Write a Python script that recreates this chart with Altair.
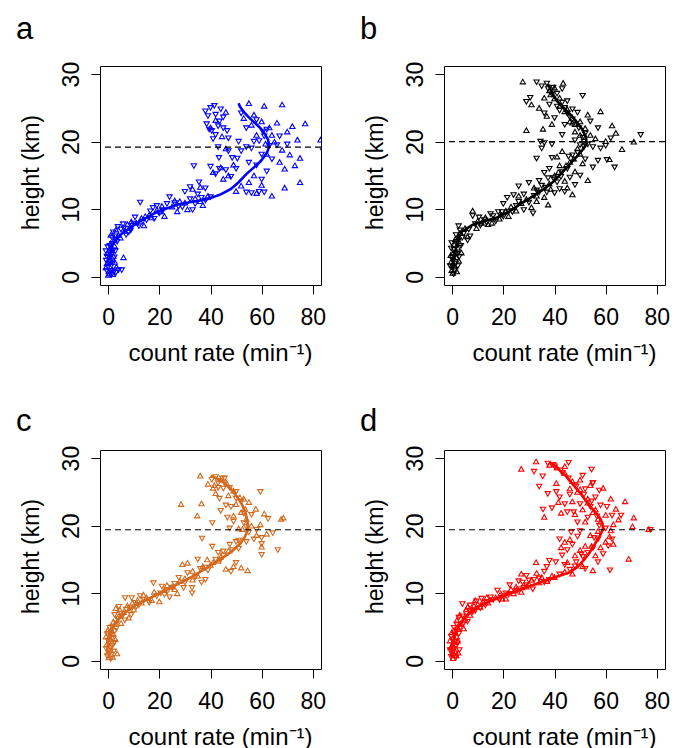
import altair as alt
import pandas as pd

FONT = "Liberation Sans"
XDOM = [-3.2, 83.2]
YDOM = [-1.2, 31.2]
W, H = 221, 219
X_TICKS = [0, 20, 40, 60, 80]
Y_TICKS = [0, 10, 20, 30]
X_TITLE = "count rate (min\u207b\u00b9)"
Y_TITLE = "height (km)"

# ---------------- panel a (blue) ----------------
a_up = [(0.2,0.8),(1.5,1.2),(-0.5,2.0),(0.8,2.6),(2.0,3.1),(-0.3,3.5),(1.2,4.2),(3.2,1.5),(0.5,0.5),(2.5,4.6),(6.0,2.9),
        (0.0,0.3),(1.8,0.4),(-0.9,1.4),(2.6,2.2),(0.4,4.0),(1.0,5.0),
        (2.5,5.5),(4.0,6.2),(6.5,6.8),(8.5,7.3),(3.0,7.0),(1.0,6.2),(4.8,5.8),(7.5,7.8),(9.0,8.2),
        (11,8.0),(13,8.7),(16,9.2),(19,9.9),(21,10.5),(14,7.6),(22,9.0),(14.5,9.0),(17,8.8),(20.5,9.7),
        (25,10.4),(28,11.2),(31,10.0),(34,11.6),(37,10.6),(39,12.0),(27,9.7),(30,11.0),(36,11.2),(26,11.3),
        (33,13.0),(36,13.3),
        (41,15.5),(44,16.2),(47,15.0),(49,16.6),(45,14.5),(46,19.0),
        (42,23.2),(40,22.1),(46,24.4),(44.5,20.8),
        (55,25.7),(61,25.3),(68,25.5),(57,24.0),(60,23.0),(63,22.1),(66,22.8),(70,21.5),(72,22.3),(77,22.7),(74,20.3),
        (65,20.0),(58,21.0),(61.5,19.7),(68,18.8),(71,18.1),(75,17.6),(62,18.2),(67,17.0),(69,16.0),(73,16.5),(56,22.5),
        (53,23.5),(64,21.0),
        (58,12.4),(64,12.0),(69,13.2),(75,14.0),(55,14.0),(60,13.6),(57,15.0),(50,12.7),(52,13.5),
        (83,20.3)]
a_dn = [(0.0,1.5),(1.0,0.9),(-0.8,2.4),(1.8,2.0),(0.3,3.0),(2.8,3.8),(-0.2,4.4),(1.4,3.3),(4.0,1.0),(0.7,1.9),(2.2,0.7),
        (-0.6,0.9),(1.6,4.9),(5.3,1.0),
        (0.9,2.2),(2.4,2.9),(-0.5,3.0),(1.9,3.9),(0.6,4.6),(-0.9,3.8),(3.0,0.6),(1.3,0.3),(0.1,2.0),
        (1.5,5.8),(3.5,5.2),(5.0,7.0),(7.0,6.2),(9.5,7.6),(2.0,6.6),(5.8,7.8),(8.0,6.6),
        (3.8,7.4),(6.2,7.2),(8.8,6.9),(2.8,6.0),(10,7.9),
        (10.5,8.8),(12.5,11.0),(15,8.4),(17.5,10.2),(20,9.4),(12,7.5),(18,8.6),(23,10.8),
        (13.5,8.2),(16.5,9.7),(19,10.5),(21.5,9.9),
        (24,11.8),(26,10.9),(29,10.3),(32,11.5),(35,12.2),(38,11.3),(30,12.6),(33,9.9),
        (27.5,10.4),(34,10.8),(36.5,11.7),(40,11.8),
        (32,13.3),(38,13.1),(35.5,14.0),(33.5,16.4),
        (40,16.3),(42,15.2),(43.5,16.0),(46,15.8),(48,14.8),(50,16.0),(48.5,17.6),(50.5,17.5),(43.3,17.6),(43,19.2),(47,18.6),
        (38,24.5),(39,23.8),(40,25.0),(41.5,25.3),(42,24.0),(38.5,22.6),(43.5,23.0),(40.5,21.6),(42,21.0),(45,22.0),
        (46.5,21.6),(44,24.8),(41,20.4),(43,22.3),(47,20.5),(39.5,21.8),(45,23.6),
        (52,24.2),(54,22.0),(58,23.2),(62,21.8),(59,20.1),(63,19.4),(66,19.5),(70,19.6),(56,19.0),(52,18.6),(60,18.1),
        (64,17.4),(58,16.5),(55,16.9),(61,20.8),(67,20.8),(57,20.0),(54,19.2),(51,20.0),(60.5,21.5),
        (54,12.5),(56,12.4),(59,12.6),(61,12.5),(60,14.4),(62,15.6),
        (84,18.6)]
a_smooth = [(0.5,2.5),(1.5,4.5),(3.0,5.6),(6,6.6),(11,7.9),(19,9.6),(28,10.8),(38.7,11.5),(44,12.2),(48,13.0),(51,14.0),
            (54,15.2),(57,16.2),(59.6,17.1),(62,18.3),(63,19.3),(62.5,20.3),(61,21.3),(59.5,22.0),(57.6,22.7),(55,23.6),
            (53,24.4),(51.5,25.2),(51,25.7)]
a_dash = 19.2

# ---------------- panel b (black) ----------------
b_up = [(0.2,0.6),(1.0,1.5),(-0.5,2.2),(1.6,2.9),(0.4,3.6),(2.2,4.3),(3.0,5.0),(1.2,5.6),(-0.2,1.0),(2.6,2.4),
        (0.0,1.8),(1.8,0.8),(-0.6,3.2),(2.4,5.8),(0.8,4.8),(3.6,3.6),
        (3,6.5),(5,7.2),(8,9.8),(10,8.3),(13,8.8),(16,8.6),(19,9.2),(22,9.0),(6,6.0),(14,7.8),
        (9.5,7.2),(11.5,8.0),(15.5,8.0),(18.5,8.6),(21,9.8),
        (23,10.4),(25,9.8),(27,10.9),(29,11.5),(31,10.3),(33,11.2),(26,12.0),
        (37.5,10.7),(36,11.8),(32,13.2),(38,13.8),(33,12.0),(38.5,13.0),
        (40,15.0),(42,16.5),(44,14.2),(46,17.0),(48,15.6),(50,18.2),(43,18.6),(53,14.3),(51,16.8),(45,13.2),(47,12.2),
        (41,17.8),(49,19.0),(41.5,15.5),(44.5,16.5),(47.5,17.5),
        (48,21.5),(50,23.0),(52,22.0),(54,21.0),(56,20.5),(58,24.5),(45,24.8),(53,24.0),(47,22.8),
        (50,21.0),(48,22.6),(46,23.0),(44,24.5),(42,25.3),(40,26.4),(38.5,27.0),
        (62.5,22.4),(64,21.3),(60,20.1),(71,20.0),(66.4,18.9),(61.5,17.4),
        (27.6,28.9),(29,21.7),(35.5,21.9),(31,25.5),(36,26.5),(38,27.6),(43.4,28.7),(40,28.0),(34,25.0),(37,23.8),
        (39,22.6),(42,26.5)]
b_dn = [(0.6,0.4),(-0.8,1.6),(1.4,2.0),(0.0,2.8),(2.0,3.4),(0.8,4.0),(3.4,4.6),(1.8,5.2),(4.0,5.8),(2.8,3.0),(-0.4,4.2),
        (1.0,1.0),(0.3,2.4),(1.2,3.3),(2.2,1.6),(-0.2,5.0),(1.5,6.2),(3.0,6.9),
        (2.5,7.5),(4.5,6.4),(6.5,7.0),(8,9.0),(7,6.0),(9,7.8),(11,7.6),(12.5,8.4),(15,9.3),(17,8.2),(20,8.9),(18,9.6),(6,5.4),
        (10.5,8.8),(13.5,8.0),(16,9.0),(19.5,9.6),(23.5,9.6),(25,10.5),
        (20,10.8),(21.5,11.7),(24,12.1),(26,11.1),(28,12.2),(30,11.0),(31.6,9.4),(32,12.0),(22,9.6),(28,9.9),
        (26,13.4),(30,13.9),(33,12.8),(35,13.5),(37,12.5),(34,14.2),
        (34,12.5),(36.5,13.2),(39.5,14.6),(42.5,14.8),(45.5,17.8),(49,18.4),(51.5,19.2),
        (38,16.0),(39,17.6),(41,14.0),(43,15.5),(45,16.0),(47,18.0),(48,13.6),(50,15.0),(52,17.4),(44,12.6),(42,13.0),
        (46,14.7),(40,12.4),(36,15.4),(37.5,14.6),(55,16.2),(33,17.5),(35,19.0),(39,19.6),
        (46,23.6),(49,24.3),(51,20.6),(53,19.6),(55,19.2),(57,22.0),(44,22.5),(48,20.2),(50,19.5),(52,21.2),(43,21.0),
        (54,23.0),
        (51.5,20.0),(49.5,22.0),(47,23.3),(45,24.2),(43,25.8),(41,27.1),(39.5,28.0),(37.5,27.8),
        (73.7,21.0),(63.5,16.2),(60.5,17.3),(58,19.0),(60,19.4),(62,20.5),(57,17.2),
        (33,28.8),(29,25.9),(30.5,26.5),(35,28.2),(37,28.6),(39,27.0),(41,25.2),(43,27.8),(45,26.0),(51,26.8),(38,25.5),
        (36,24.2),(40,23.5),(42,24.6),(44,25.0),(47,24.8),(36,19.8),(34.5,20.0)]
b_smooth = [(0,1.0),(0.8,3),(2,5.2),(3.5,6.6),(7.9,7.7),(12,8.2),(17,8.7),(22,9.6),(26.3,10.7),(31,11.8),(35.5,12.9),
            (40,14.2),(43.4,15.6),(46,16.7),(48.7,17.8),(51,18.8),(52.6,19.7),(52.2,20.8),(50.7,21.9),(48.5,23.0),
            (46,24.1),(43,25.2),(40.8,26.1),(39,27.3),(37.5,28.5)]
b_dash = 20.0

# ---------------- panel c (orange) ----------------
c_up = [(0.2,0.5),(1.0,1.6),(-0.6,2.4),(0.8,3.2),(2.0,4.0),(-0.3,4.5),(3.5,1.1),(1.5,2.8),
        (0.0,1.2),(1.8,0.6),(-0.9,3.6),(1.0,4.4),(2.8,3.2),
        (2,5.8),(4,6.6),(6,7.2),(8,6.4),(10,7.6),(3,7.8),(5,5.6),(13.8,9.8),
        (4.5,7.6),(7.5,8.2),(9.5,8.6),(11.5,9.0),
        (13,8.6),(15,9.4),(18,10.2),(20,8.8),(22,10.5),(25,11.0),(27,10.0),(17,9.0),(28,11.8),
        (23,11.2),(26,10.6),(33,12.0),(40,14.2),(43,14.8),
        (29,14.3),(31,14.5),(33,13.3),(35,12.6),(37,14.0),(38.7,15.0),(30,12.2),
        (41,14.6),(44,15.4),(47,16.3),(49,14.0),(52,13.8),(54.5,13.4),(46,13.6),
        (47,24.5),(50,23.2),(52,22.0),(54,21.0),(56,20.0),(58,18.6),(49,21.5),(53,24.0),(55,23.5),(57.7,22.5),(51,19.6),
        (59.5,20.2),
        (52.5,19.5),(53.5,22.5),(51.5,24.2),(49,25.2),(46.5,26.2),(44,26.8),
        (61,21.8),(67.6,21.0),(68.5,21.2),(62,18.8),(60,16.9),
        (36,27.4),(28.5,23.2),(36.5,23.3),(34.8,21.5),(41,25.6),(42,24.8),(39,26.2),(41.5,26.0)]
c_dn = [(0.5,1.0),(-0.8,1.8),(1.6,2.2),(0.0,3.0),(1.2,3.8),(2.6,4.4),(-0.4,0.7),(0.6,4.9),(2.2,1.4),(1.0,0.3),
        (0.4,2.6),(1.5,3.4),(-0.2,4.0),(2.4,2.7),(0.9,1.9),(3.2,4.8),
        (1.5,5.0),(3.2,5.5),(5,7.0),(7,7.6),(9,6.8),(2.5,6.8),(6.5,6.0),(11,8.0),(4.2,8.0),(6.6,9.3),(9.2,9.3),
        (3.8,6.2),(5.5,6.6),(8.5,7.8),(10.5,8.6),(12.5,9.6),
        (12,8.2),(14,9.0),(16,8.6),(17.7,11.5),(19,9.6),(21,11.0),(23,10.2),(24,9.4),(26,11.4),(27.6,12.3),(29.5,10.8),
        (20.5,10.0),
        (22,9.8),(25,10.8),(30,11.6),(38,13.8),(44,15.0),(48.5,16.4),(50,17.6),
        (32.8,10.0),(32.8,10.8),(34,12.4),(36,13.6),(38,12.0),(31,13.0),(35,15.0),(39,13.4),(36.5,11.6),
        (40.7,16.9),(43,16.0),(45,16.2),(45,15.6),(48,13.2),(50,14.5),(42,15.0),(47.5,17.2),(51,16.6),
        (48,22.8),(50,25.0),(52,23.6),(53,20.4),(55,19.0),(57,18.0),(59.5,25.0),(49,20.6),(46.6,21.2),(54,17.6),(56,21.6),
        (58,19.4),(51,17.8),(60,18.2),
        (54,19.8),(53,21.8),(50,24.0),(47.5,25.6),(45.5,27.0),(43,25.6),
        (64.3,18.9),(66.3,16.4),(60,17.3),(60,15.7),(62.5,21.0),
        (40.7,20.4),(36.7,18.1),(40.5,26.8),(43,26.3),(44.5,27.0),(45,25.5),(43.5,24.0),(46,23.0),(44,22.2),(47.5,19.6),
        (45.3,26.4),(42,27.2)]
c_smooth = [(-0.5,1.2),(0,3),(2,5.1),(4.5,6.4),(7.2,7.3),(11,8.3),(16.4,9.3),(21,10.2),(26.9,11.3),(32,12.3),(37.4,13.5),
            (42,14.6),(46.6,15.7),(49.5,16.6),(51.8,17.4),(53.5,18.4),(54.5,19.3),(54.5,20.5),(53.8,21.8),(52.5,23.0),
            (50.5,24.2),(48,25.4),(45.3,26.4),(42.5,27.0),(40,27.4)]
c_dash = 19.4

# ---------------- panel d (red) ----------------
d_up = [(0.3,0.4),(1.2,1.4),(-0.6,2.0),(0.6,2.8),(1.8,3.6),(-0.2,4.2),(2.4,1.2),(0.9,0.9),
        (0.0,2.2),(1.6,0.8),(-0.9,3.0),(0.8,4.6),(2.2,3.0),
        (2,5.0),(3.5,5.6),(5,6.2),(7,6.8),(1.8,6.0),(4.5,4.8),
        (3.0,6.8),(5.5,7.6),(8.5,8.2),(11,8.0),(13.5,9.4),
        (6,8.0),(8,7.6),(10,8.4),(12,8.8),(14,8.6),(9,9.0),
        (17,9.4),(19,10.0),(21,9.2),
        (19.5,9.2),(24.5,10.4),(29,11.0),(34,11.6),(40,12.4),(44,13.2),
        (23,10.6),(25,11.0),(27,10.2),(30,11.4),(24,10.0),
        (27,12.9),(31,12.0),(33,13.0),(35,12.4),(37,11.8),(32.8,14.6),(39,12.6),
        (42.6,16.8),(44,17.6),(46,18.0),(48,15.6),(50,16.4),(52,17.0),(54,18.6),(47,12.9),(45,14.6),(51,14.0),(55,13.4),
        (56,15.6),(58,16.8),(60,17.6),(61.5,18.4),(62,19.3),(63,17.3),(69,15.1),
        (54.5,17.0),(57,19.2),(58,20.6),(56,22.4),(53,23.4),(50,25.4),(47,26.6),(44,27.8),(41,28.6),
        (47,23.6),(49,25.0),(51,22.4),(53,24.0),(55,22.0),(57,21.0),(48,21.7),(54,26.0),(50,26.8),(52,20.6),
        (59,25.6),(62,24.0),(64,22.5),(67.6,23.6),(65,20.9),(71,21.2),(70.5,19.9),(76.8,19.5),(60,21.6),(63,20.2),
        (32.8,29.5),(27,28.4),(38,29.0),(44,28.8),(36,21.3),(42.6,21.9),(40.7,26.3),(41.5,23.5),(46,25.5)]
d_dn = [(0.0,1.0),(-0.8,1.6),(1.5,2.2),(0.2,3.2),(1.0,3.8),(2.6,4.0),(-0.4,0.6),(2.0,2.6),(1.4,0.5),
        (0.5,1.8),(1.2,2.8),(-0.4,3.6),(2.8,1.6),(0.7,4.9),(1.8,5.4),
        (1.5,4.4),(3,4.8),(4,6.6),(6,5.8),(8,7.2),(2.6,6.4),(5.5,7.0),
        (4.2,5.4),(6.8,7.4),(9.5,8.8),(12.5,8.6),(15,9.4),
        (4,8.4),(7,8.2),(9,7.4),(11,7.8),(13,8.2),(11.5,9.2),
        (16,9.0),(17.7,10.4),(20,9.6),(22,9.8),(18.5,9.0),
        (21,10.0),(26,10.6),(32,12.0),(36,11.6),(42,12.8),(48.5,14.6),(50.5,15.8),
        (22.5,11.2),(26,11.8),(28,10.8),(29,11.2),(31.5,10.6),(27.5,11.6),
        (29,12.6),(30,11.9),(34,12.2),(36,13.2),(38,12.0),(38,14.8),(37,13.9),(40.5,14.6),
        (43,15.6),(45,16.4),(47,17.2),(49,18.4),(51,15.4),(53,16.0),(44,14.2),(46,13.5),(48,14.0),(52,13.6),(50,19.2),
        (42,18.0),(46.5,19.0),
        (57,14.6),(59,15.8),(61,17.0),(62.5,18.0),(61.7,13.4),(57,18.0),(55,16.7),(60,19.6),
        (55.5,18.2),(57.5,20.0),(56.5,21.4),(54.5,23.6),(51.5,24.6),(48.5,25.8),(45.5,27.0),(42.5,28.2),(39.5,29.0),
        (46,24.6),(48,26.0),(50,23.2),(52,25.4),(54,22.8),(56,24.2),(58,23.0),(49,20.5),(53,21.2),(55,26.3),(51,27.4),
        (47.5,22.0),
        (57.5,25.2),(60.5,22.8),(62.5,21.5),(66,21.5),(77.5,19.4),
        (37.4,29.2),(40,28.8),(45.5,29.3),(32,28.0),(35.4,27.3),(34,25.8),(37.4,24.7),(54.5,28.3),(55,26.3),(40.7,25.0),
        (43,27.8),(39,22.6),(44,23.2),(42,24.2),(45,22.0),(35.5,22.4)]
d_smooth = [(-0.5,0.6),(0,2.5),(1.3,4.1),(3.5,5.8),(6.6,7.0),(11,8.2),(17,9.2),(22,9.9),(27.6,10.7),(33,11.4),(38,12.1),
            (42,12.6),(46,13.1),(49,13.9),(51.2,14.8),(53.7,16.0),(55.8,17.3),(57.7,18.5),(59,19.5),(58.7,20.4),
            (57.7,21.2),(56,22.0),(53.8,22.9),(51.8,23.9),(49.9,24.9),(47.2,26.1),(44.6,27.3),(41.5,28.4),(38.7,29.3)]
d_dash = 19.4


def frame(pairs):
    return pd.DataFrame({"x": [p[0] for p in pairs], "y": [p[1] for p in pairs],
                         "i": list(range(len(pairs)))})


def panel(letter, color, up, dn, smooth, dash, title_offset):
    xsc = alt.Scale(domain=XDOM, nice=False, zero=False)
    ysc = alt.Scale(domain=YDOM, nice=False, zero=False)
    xax = alt.Axis(values=X_TICKS, title=X_TITLE, grid=False, domain=False, tickSize=9, tickColor="black",
                   labelFontSize=23, labelPadding=30, labelBaseline="alphabetic", labelColor="black", labelFont=FONT,
                   titleFontSize=24, titleFontWeight="normal", titleColor="black", titleFont=FONT,
                   titleX=120, titleY=75, titleBaseline="alphabetic", titleAlign="center")
    yax = alt.Axis(values=Y_TICKS, title=Y_TITLE, grid=False, domain=False, tickSize=9, tickColor="black",
                   labelFontSize=23, labelPadding=13, labelAngle=270, labelAlign="center",
                   labelBaseline="alphabetic", labelColor="black", labelFont=FONT,
                   titleFontSize=23, titleFontWeight="normal", titleColor="black", titleFont=FONT,
                   titleX=-62, titleY=106, titleBaseline="alphabetic", titleAlign="center", titleAngle=270)
    X = alt.X("x:Q", scale=xsc, axis=xax)
    Y = alt.Y("y:Q", scale=ysc, axis=yax)
    up_l = alt.Chart(frame(up)).mark_point(shape="triangle-up", filled=False, size=28, strokeWidth=1.1,
                                            color=color, opacity=1, clip=True).encode(x=X, y=Y)
    dn_l = alt.Chart(frame(dn)).mark_point(shape="triangle-down", filled=False, size=28, strokeWidth=1.1,
                                            color=color, opacity=1, clip=True).encode(x=X, y=Y)
    ln = alt.Chart(frame(smooth)).mark_line(color=color, strokeWidth=2.6, clip=True).encode(
        x=X, y=Y, order=alt.Order("i:Q"))
    rule = alt.Chart(pd.DataFrame({"y": [dash]})).mark_rule(color="black", strokeWidth=1.2, strokeDash=[6, 4],
                                                           clip=True).encode(y=Y)
    return alt.layer(up_l, dn_l, ln, rule).properties(
        width=W, height=H,
        title=alt.TitleParams(letter, anchor="start", frame="group", dx=-84, offset=title_offset,
                              baseline="alphabetic", fontSize=31, fontWeight="normal", font=FONT, color="black"))


pa = panel("a", "#0000FF", a_up, a_dn, a_smooth, a_dash, -9)
pb = panel("b", "#000000", b_up, b_dn, b_smooth, b_dash, -9)
pc = panel("c", "#D2691E", c_up, c_dn, c_smooth, c_dash, -17)
pd_ = panel("d", "#FF0000", d_up, d_dn, d_smooth, d_dash, -17)

chart = alt.concat(pa, pb, pc, pd_, columns=2, spacing={"row": 165, "column": 123}, bounds="flush").properties(
    padding={"left": 7, "top": 5, "right": 5, "bottom": 5}
).configure(font=FONT).configure_view(stroke="black", strokeWidth=1, strokeOpacity=1)

chart.save("out.html", embed_options={"renderer": "svg", "actions": False})
